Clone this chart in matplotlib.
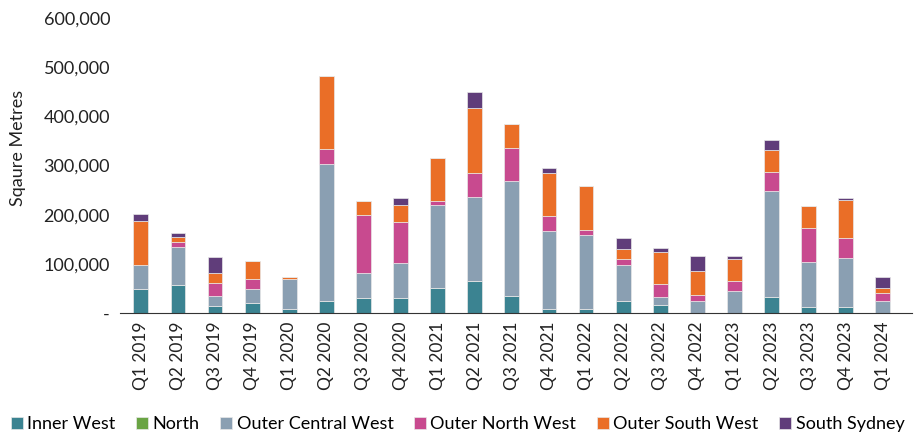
import matplotlib.pyplot as plt
import numpy as np
from matplotlib.ticker import FuncFormatter

plt.rcParams['font.family'] = ['Lato', 'DejaVu Sans']

quarters = ["Q1 2019", "Q2 2019", "Q3 2019", "Q4 2019", "Q1 2020", "Q2 2020",
            "Q3 2020", "Q4 2020", "Q1 2021", "Q2 2021", "Q3 2021", "Q4 2021",
            "Q1 2022", "Q2 2022", "Q3 2022", "Q4 2022", "Q1 2023", "Q2 2023",
            "Q3 2023", "Q4 2023", "Q1 2024"]

# square metres by region
inner_west = [49000, 58000, 14000, 21000, 8000, 25000, 30000, 30000, 50000, 66000, 34000,
              9000, 9000, 24000, 16000, 0, 0, 32000, 12000, 12000, 0]
north = [0] * 21
outer_central_west = [48000, 76000, 21000, 28000, 61000, 279000, 52000, 72000, 169000, 170000, 234000,
                      157000, 149000, 73000, 16000, 24000, 44000, 216000, 92000, 100000, 24000]
outer_north_west = [0, 11000, 27000, 20000, 0, 29000, 117000, 84000, 8000, 48000, 68000,
                    32000, 12000, 12000, 27000, 12000, 21000, 39000, 69000, 40000, 16000]
outer_south_west = [90000, 9000, 20000, 36000, 4000, 149000, 28000, 33000, 88000, 133000, 49000,
                    86000, 89000, 21000, 65000, 49000, 44000, 44000, 44000, 78000, 12000]
south_sydney = [15000, 8000, 33000, 0, 0, 0, 0, 16000, 0, 32000, 0,
                11000, 0, 23000, 9000, 32000, 8000, 21000, 0, 4000, 21000]

series = [
    ("Inner West", inner_west, "#3b8391"),
    ("North", north, "#6aa444"),
    ("Outer Central West", outer_central_west, "#8a9fb2"),
    ("Outer North West", outer_north_west, "#c84a8f"),
    ("Outer South West", outer_south_west, "#ea6e27"),
    ("South Sydney", south_sydney, "#603d7a"),
]

fig = plt.figure(figsize=(9.21, 4.33), dpi=100)
ax = fig.add_axes([0.130, 0.277, 0.860, 0.681])

x = np.arange(len(quarters))
bottom = np.zeros(len(quarters))
for name, vals, color in series:
    vals = np.array(vals, dtype=float)
    ax.bar(x, vals, width=0.4, bottom=bottom, color=color, label=name,
           edgecolor="#e8e8e8", linewidth=0.5)
    bottom += vals

ax.set_ylim(0, 600000)
ax.set_xlim(-0.57, 20.78)
ax.set_yticks(np.arange(0, 600001, 100000))
ax.yaxis.set_major_formatter(FuncFormatter(lambda v, p: "-" if v == 0 else f"{v:,.0f}"))
ax.set_xticks(x)
ax.set_xticklabels(quarters, rotation=90)
ax.tick_params(axis="y", length=0, labelsize=13, pad=7, colors="#222222")
ax.tick_params(axis="x", length=0, labelsize=12.5, pad=6, colors="#222222")
for s in ["top", "right", "left"]:
    ax.spines[s].set_visible(False)
ax.spines["bottom"].set_color("#333333")

ax.set_ylabel("Sqaure Metres", fontsize=13, color="#222222")
ax.yaxis.set_label_coords(-0.118, 0.56)

fig.legend(loc="lower center", bbox_to_anchor=(0.497, -0.035), ncol=6, frameon=False,
           fontsize=13, handlelength=0.65, handleheight=0.65, handletextpad=0.25,
           columnspacing=1.15)

plt.savefig("out.png", dpi=100)
